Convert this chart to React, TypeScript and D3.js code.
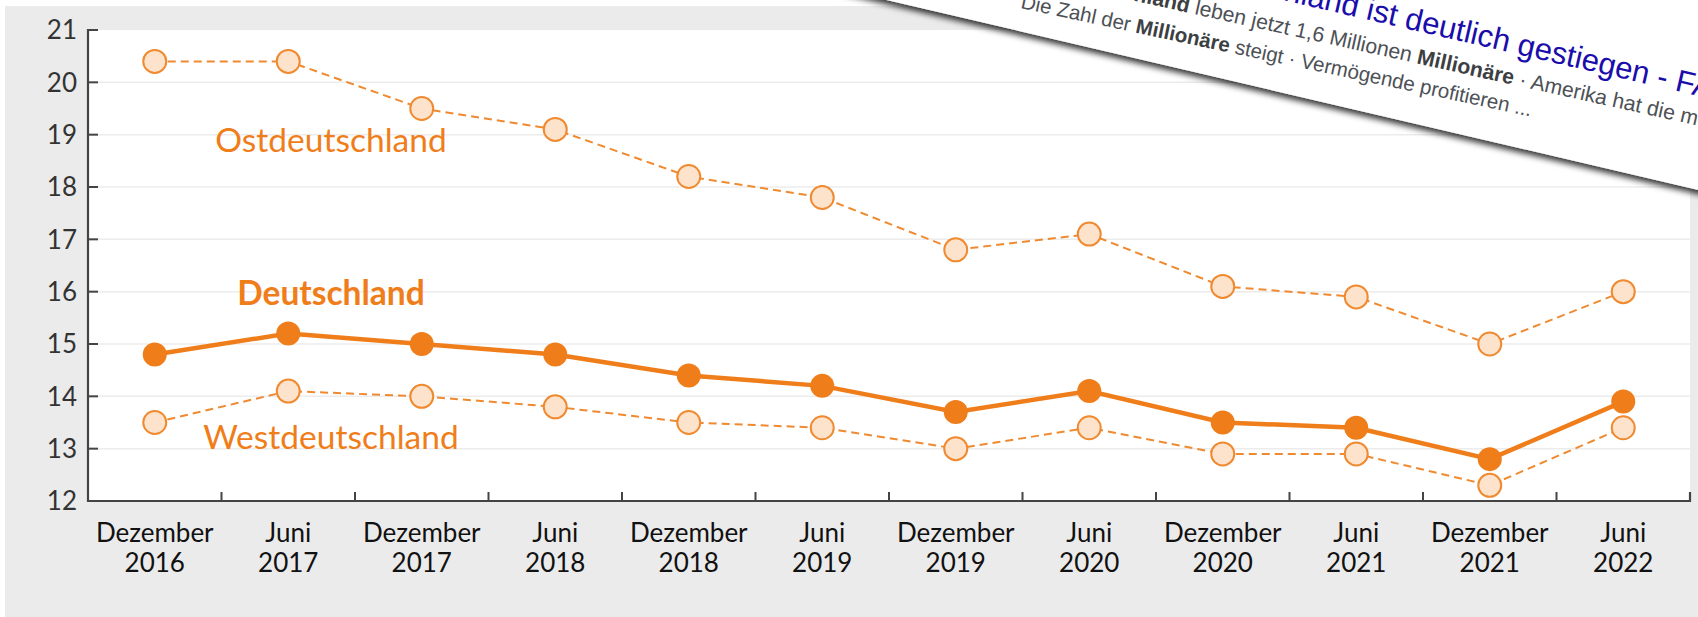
import React from "react";
import * as d3 from "d3";

const months = ["Dezember", "Juni", "Dezember", "Juni", "Dezember", "Juni", "Dezember", "Juni", "Dezember", "Juni", "Dezember", "Juni"];
const years = ["2016", "2017", "2017", "2018", "2018", "2019", "2019", "2020", "2020", "2021", "2021", "2022"];
const categories = months.map((m, i) => `${m} ${years[i]}`);

const ostdeutschland = [20.4, 20.4, 19.5, 19.1, 18.2, 17.8, 16.8, 17.1, 16.1, 15.9, 15.0, 16.0];
const deutschland = [14.8, 15.2, 15.0, 14.8, 14.4, 14.2, 13.7, 14.1, 13.5, 13.4, 12.8, 13.9];
const westdeutschland = [13.5, 14.1, 14.0, 13.8, 13.5, 13.4, 13.0, 13.4, 12.9, 12.9, 12.3, 13.4];

const yTicks = [12, 13, 14, 15, 16, 17, 18, 19, 20, 21];

const W = 1698;
const H = 617;
const M = { left: 88, right: 1690, top: 30, bottom: 501 };

const ORANGE = "#ef7d1a";
const ORANGE_LINE = "#f08a30";
const PEACH = "#fde3cc";
const AXIS = "#444444";
const LATO = "Lato, 'Noto Sans', sans-serif";
const ARIAL = "'Liberation Sans', Arial, sans-serif";

export default function App() {
  const x = d3.scaleBand<string>().domain(categories).range([M.left, M.right]).padding(0);
  const y = d3.scaleLinear().domain([12, 21]).range([M.bottom, M.top]);
  const cx = (i: number) => (x(categories[i]) as number) + x.bandwidth() / 2;

  const line = d3
    .line<number>()
    .x((_, i) => cx(i))
    .y((d) => y(d));

  const boundaries = categories.map((c) => (x(c) as number) + x.bandwidth());

  return (
    <svg
      width={W}
      height={H}
      style={{ position: "absolute", left: 0, top: 0, background: "#ffffff" }}
      fontFamily={LATO}
    >
      <defs>
        <filter id="cardShadow" x="-20%" y="-20%" width="140%" height="160%">
          <feDropShadow dx="-1" dy="4" stdDeviation="3" floodColor="#000" floodOpacity="0.8" />
        </filter>
      </defs>

      {/* gray panel */}
      <rect x={5} y={6} width={W - 5} height={H - 6} fill="#ebebeb" />
      {/* plot area */}
      <rect x={M.left} y={M.top} width={M.right - M.left} height={M.bottom - M.top} fill="#ffffff" />

      {/* grid */}
      {yTicks
        .filter((t) => t > 12 && t < 21)
        .map((t) => (
          <line key={"g" + t} x1={M.left} x2={M.right} y1={y(t)} y2={y(t)} stroke="#ececec" strokeWidth={1.5} />
        ))}

      {/* axes */}
      <path
        d={`M${M.left + 10},${M.top} H${M.left} V${M.bottom} H${M.right} V${M.bottom - 9}`}
        fill="none"
        stroke={AXIS}
        strokeWidth={2.2}
      />
      {yTicks
        .filter((t) => t < 21)
        .map((t) => (
          <line key={"yt" + t} x1={M.left} x2={M.left + 10} y1={y(t)} y2={y(t)} stroke={AXIS} strokeWidth={2} />
        ))}
      {boundaries.slice(0, -1).map((b, i) => (
        <line key={"xt" + i} x1={b} x2={b} y1={M.bottom} y2={M.bottom - 9} stroke={AXIS} strokeWidth={2} />
      ))}

      {/* y labels */}
      {yTicks.map((t) => (
        <text key={"yl" + t} x={77} y={y(t)} dy="0.36em" textAnchor="end" fontSize={26} fill="#333">
          {t}
        </text>
      ))}

      {/* x labels */}
      {categories.map((c, i) => (
        <text key={"xl" + i} x={cx(i)} textAnchor="middle" fontSize={26} fill="#111">
          <tspan x={cx(i)} y={542}>
            {months[i]}
          </tspan>
          <tspan x={cx(i)} y={572}>
            {years[i]}
          </tspan>
        </text>
      ))}

      {/* series */}
      <path d={line(ostdeutschland) || ""} fill="none" stroke={ORANGE_LINE} strokeWidth={2} strokeDasharray="8 5" />
      <path d={line(westdeutschland) || ""} fill="none" stroke={ORANGE_LINE} strokeWidth={2} strokeDasharray="8 5" />
      <path d={line(deutschland) || ""} fill="none" stroke={ORANGE} strokeWidth={4.5} />

      {ostdeutschland.map((v, i) => (
        <circle key={"o" + i} cx={cx(i)} cy={y(v)} r={11.5} fill={PEACH} stroke={ORANGE_LINE} strokeWidth={2} />
      ))}
      {westdeutschland.map((v, i) => (
        <circle key={"w" + i} cx={cx(i)} cy={y(v)} r={11.5} fill={PEACH} stroke={ORANGE_LINE} strokeWidth={2} />
      ))}
      {deutschland.map((v, i) => (
        <circle key={"d" + i} cx={cx(i)} cy={y(v)} r={12} fill={ORANGE} />
      ))}

      {/* series labels */}
      <text x={331} y={152} textAnchor="middle" fontSize={33.5} fill={ORANGE}>
        Ostdeutschland
      </text>
      <text x={331} y={305} textAnchor="middle" fontSize={33.5} fontWeight="bold" fill={ORANGE}>
        Deutschland
      </text>
      <text x={331} y={449} textAnchor="middle" fontSize={33.5} fill={ORANGE}>
        Westdeutschland
      </text>

      {/* overlaid search-result card */}
      <polygon points="600,-67 1720,195 1720,-200 600,-200" fill="#ffffff" filter="url(#cardShadow)" />
      <g fontFamily={ARIAL}>
        <g transform="translate(1365,19) rotate(13)" fontSize={31} fill="#1a0dab">
          <text x={0} y={0}>ist deutlich gestiegen - FAZ</text>
          <text x={-8.6} y={0} textAnchor="end">Zahl der Millionäre in Deutschland</text>
        </g>
        <g transform="translate(1194,14) rotate(12.5)" fontSize={21.2} fill="#4d5156">
          <text x={0} y={0}>
            leben jetzt 1,6 Millionen <tspan fontWeight="bold" fill="#3c4043">Millionäre</tspan> · Amerika hat die meisten ...
          </text>
          <text x={-5.9} y={0} textAnchor="end">
            In <tspan fontWeight="bold" fill="#3c4043">Deutschland</tspan>
          </text>
        </g>
        <g transform="translate(1020,8) rotate(12)" fontSize={20.5} fill="#4d5156">
          <text x={0} y={0}>
            Die Zahl der <tspan fontWeight="bold" fill="#3c4043">Millionäre</tspan> steigt · Vermögende profitieren ...
          </text>
        </g>
      </g>
    </svg>
  );
}
